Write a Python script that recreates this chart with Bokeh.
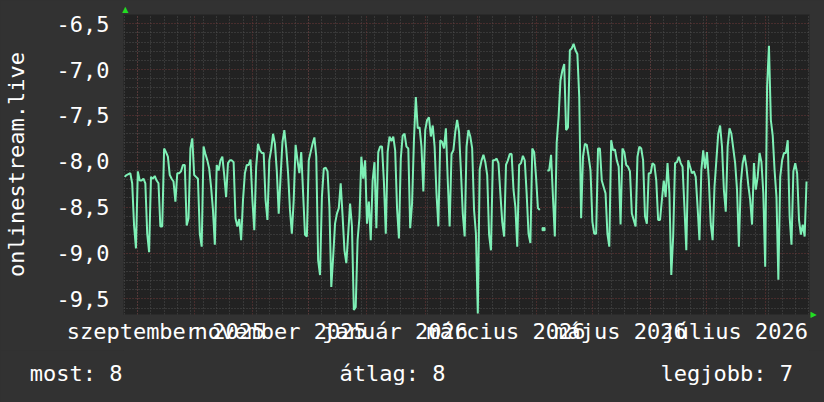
import numpy as np
import pandas as pd
from bokeh.plotting import figure
from bokeh.layouts import column
from bokeh.models import (ColumnDataSource, FixedTicker, Grid, Label, Range1d,
                          LinearAxis)
from bokeh.embed import file_html
from bokeh.resources import INLINE

nan = float("nan")

# ---- data (daily, starting 2025-08-25) ----
start_date = "2025-08-25"
values = [
    -8.17, -8.15, -8.14, -8.13, -8.24, -8.70, -8.95,
    -8.11, -8.21, -8.21, -8.19, -8.24, -8.79, -8.99,
    -8.17, -8.19, -8.16, -8.21, -8.24, -8.71, -8.71,
    -7.86, -7.90, -7.95, -8.15, -8.19, -8.22, -8.44,
    -8.13, -8.13, -8.11, -8.04, -8.04, -8.70, -8.62,
    -7.86, -7.75, -8.15, -8.17, -8.19, -8.79, -8.93,
    -7.84, -7.92, -7.99, -8.08, -8.28, -8.53, -8.91,
    -8.04, -8.10, -7.99, -7.95, -8.15, -8.39, -8.02,
    -7.99, -7.99, -8.01, -8.62, -8.71, -8.63, -8.86,
    -8.42, -8.13, -8.04, -8.04, -7.98, -8.42, -8.75,
    -8.06, -7.81, -7.88, -7.91, -7.91, -8.42, -8.64,
    -7.99, -7.87, -7.70, -7.81, -8.11, -8.57, -8.17,
    -7.79, -7.66, -7.86, -8.13, -8.53, -8.79, -8.42,
    -7.82, -7.99, -8.13, -7.90, -8.35, -8.80, -8.82,
    -7.99, -7.90, -7.81, -7.74, -7.95, -9.08, -9.24,
    -8.39, -8.08, -8.07, -8.11, -8.50, -9.37, -9.04,
    -8.68, -8.57, -8.51, -8.24, -8.59, -8.97, -9.11,
    -8.79, -8.46, -8.71, -9.62, -9.59, -8.86, -8.61,
    -7.95, -8.19, -7.99, -8.68, -8.44, -8.86, -8.21,
    -8.01, -8.73, -7.90, -7.84, -7.84, -8.22, -8.79,
    -7.90, -7.73, -7.78, -7.73, -7.88, -8.51, -8.84,
    -7.97, -7.72, -7.70, -7.84, -7.86, -8.73, -8.46,
    -7.77, -7.30, -7.64, -7.63, -7.84, -8.33, -7.66,
    -7.55, -7.52, -7.73, -7.61, -7.84, -8.35, -8.71,
    -7.77, -7.79, -7.86, -7.64, -8.21, -8.71, -7.92,
    -7.88, -7.68, -7.55, -7.68, -8.10, -8.57, -8.82,
    -7.84, -7.66, -7.73, -7.86, -8.53, -8.79, -9.66,
    -8.09, -7.99, -7.93, -8.01, -8.15, -8.80, -8.97,
    -7.99, -7.99, -7.97, -8.02, -8.35, -8.66, -8.82,
    -8.04, -7.99, -7.92, -7.92, -8.31, -8.50, -8.93,
    -8.04, -8.02, -7.94, -7.99, -8.35, -8.79, -8.89,
    -7.86, -7.90, -8.17, -8.51, -8.53, nan, -8.74,
    nan, -8.10, -8.10, -7.93, -8.39, -8.82, -7.80,
    -7.52, -7.12, -7.01, -6.94, -7.66, -7.63, -6.79,
    -6.77, -6.72, -6.79, -6.83, -7.30, -8.62, -7.95,
    -7.81, -7.82, -7.95, -8.10, -8.66, -8.79, -8.79,
    -7.86, -7.86, -8.21, -8.28, -8.35, -8.79, -8.93,
    -7.77, -7.88, -7.87, -7.99, -8.06, -8.69, -7.86,
    -7.90, -8.04, -8.06, -8.11, -8.57, -8.64, -8.71,
    -7.95, -7.84, -7.86, -7.99, -8.60, -8.68, -8.13,
    -8.13, -8.02, -8.04, -8.21, -8.64, -8.64, -8.42,
    -8.21, -8.39, -8.02, -8.35, -9.24, -8.82, -8.02,
    -8.01, -7.95, -8.02, -8.06, -8.50, -8.97, -7.99,
    -8.06, -8.13, -8.11, -8.17, -8.50, -8.86, -8.10,
    -7.88, -8.08, -7.90, -8.21, -8.68, -8.86, -8.28,
    -7.99, -7.70, -7.61, -7.84, -8.31, -8.55, -7.84,
    -7.64, -7.70, -7.86, -8.02, -8.31, -8.93, -8.24,
    -8.02, -7.93, -8.06, -8.26, -8.42, -8.69, -8.02,
    -8.31, -8.17, -7.91, -8.01, -8.35, -9.15, -7.19,
    -6.74, -7.55, -7.72, -8.10, -8.39, -9.29, -8.17,
    -7.99, -7.91, -7.91, -7.77, -8.60, -8.91, -8.11,
    -8.02, -8.13, -8.64, -8.80, -8.69, -8.82, -8.22,
]

x_start = "2025-08-24 09:00"
x_end = "2026-08-24 14:00"
y_bottom = -9.67
y_top = -6.40

y_ticks = [-9.5, -9.0, -8.5, -8.0, -7.5, -7.0, -6.5]
label_months = ["2025-09-01", "2025-11-01", "2026-01-01",
                "2026-03-01", "2026-05-01", "2026-07-01"]
x_labels = ["szeptember 2025", "november 2025", "január 2026",
            "március 2026", "május 2026", "július 2026"]

ylabel = "onlinestream.live"
legend_texts = ["most: 8", "átlag: 8", "legjobb: 7"]

# ---- styles ----
PAGE_BG = "#323232"
CANVAS_BG = "#222222"
LINE_C = "#7ef0b6"
MINOR_C = "#4e4e4e"
MAJOR_C = "#6e3838"
ARROW_C = "#22dd22"
FONT = "DejaVu Sans Mono"
FS = "22px"
W = 824
H_MAIN = 350
H_FOOT = 52
BORDER_L = 123
BORDER_R = 15


def ms(ts):
    return pd.Timestamp(ts).value / 1e6


def style_axis(ax, font=FONT, size=FS, color="white"):
    ax.axis_line_color = None
    ax.major_tick_line_color = None
    ax.minor_tick_line_color = None
    ax.major_tick_out = 0
    ax.major_tick_in = 0
    ax.minor_tick_out = 0
    ax.minor_tick_in = 0
    ax.major_label_text_font = font
    ax.major_label_text_font_size = size
    ax.major_label_text_color = color
    ax.axis_label_text_font = FONT
    ax.axis_label_text_font_size = FS
    ax.axis_label_text_font_style = "normal"
    ax.axis_label_text_color = "white"


dates = pd.date_range(start_date, periods=len(values), freq="D")
vals = np.array(values, dtype=float)
src = ColumnDataSource(dict(date=dates, value=vals))

# isolated points (no valid neighbour) drawn as small dashes
iso = []
for i in range(len(vals)):
    if np.isnan(vals[i]):
        continue
    lft = np.isnan(vals[i - 1]) if i > 0 else True
    rgt = np.isnan(vals[i + 1]) if i < len(vals) - 1 else True
    if lft and rgt:
        iso.append(i)
iso_src = ColumnDataSource(dict(date=dates[iso], value=vals[iso]))

p = figure(width=W, height=H_MAIN, x_axis_type="datetime",
           x_range=Range1d(pd.Timestamp(x_start), pd.Timestamp(x_end)),
           y_range=Range1d(y_bottom, y_top),
           output_backend="svg", toolbar_location=None,
           min_border_left=BORDER_L, min_border_right=BORDER_R,
           min_border_top=14, min_border_bottom=36)
p.border_fill_color = PAGE_BG
p.background_fill_color = CANVAS_BG
p.outline_line_color = None
p.xgrid.visible = False
p.ygrid.visible = False

xax = p.below[0]
yax = p.left[0]

# grids
week_ticks = [ms(d) for d in pd.date_range("2025-08-25", "2026-08-24", freq="7D")]
month_ticks = [ms(d) for d in pd.date_range("2025-09-01", "2026-08-01", freq="MS")]
y_minor = [round(v, 1) for v in np.arange(-9.6, -6.35, 0.1)
           if abs(round(v, 1) * 2 - round(round(v, 1) * 2)) > 1e-6]

for ticks, col, dim in [(week_ticks, MINOR_C, 0), (y_minor, MINOR_C, 1),
                        (month_ticks, MAJOR_C, 0), (y_ticks, MAJOR_C, 1)]:
    g = Grid(dimension=dim, ticker=FixedTicker(ticks=ticks),
             grid_line_color=col, grid_line_dash="1 2", grid_line_width=1)
    p.add_layout(g)

p.line("date", "value", source=src, line_color=LINE_C, line_width=2)
p.scatter("date", "value", source=iso_src, marker="square", size=3,
          fill_color=LINE_C, line_color=LINE_C)

# axes
label_ticks = [ms(pd.Timestamp(m) + pd.Timedelta(days=15)) for m in label_months]
xax.ticker = FixedTicker(ticks=label_ticks)
xax.major_label_overrides = {t: s for t, s in zip(label_ticks, x_labels)}
yax.ticker = FixedTicker(ticks=y_ticks)
yax.major_label_overrides = {t: f"{t:.1f}".replace(".", ",") for t in y_ticks}
yax.axis_label = ylabel

# arrow heads at the axis ends (single-tick axes so they are not clipped)
x_arrow = ms(pd.Timestamp(x_start) + pd.Timedelta(days=1))
y_arrow = y_bottom + 0.001
top_ax = LinearAxis(ticker=FixedTicker(ticks=[x_arrow]),
                    major_label_overrides={x_arrow: "▲"})
right_ax = LinearAxis(ticker=FixedTicker(ticks=[y_arrow]),
                      major_label_overrides={y_arrow: "▶"})
p.add_layout(top_ax, "above")
p.add_layout(right_ax, "right")

style_axis(xax)
style_axis(yax)
style_axis(top_ax, "DejaVu Sans", "8px", ARROW_C)
style_axis(right_ax, "DejaVu Sans", "8px", ARROW_C)
top_ax.major_label_standoff = 1
right_ax.major_label_standoff = 1
xax.major_label_standoff = 4
yax.major_label_standoff = 14
yax.axis_label_standoff = 25

# footer with the summary texts: first one as a left tick label, others as labels
TEXT_Y = 0.56
foot = figure(width=W, height=H_FOOT, x_range=Range1d(0, 1), y_range=Range1d(0, 1),
              output_backend="svg", toolbar_location=None,
              x_axis_location=None, y_axis_location="left",
              min_border_left=BORDER_L, min_border_right=BORDER_R,
              min_border_top=0, min_border_bottom=0)
foot.border_fill_color = PAGE_BG
foot.background_fill_color = PAGE_BG
foot.outline_line_color = None
foot.xgrid.visible = False
foot.ygrid.visible = False
fax = foot.left[0]
fax.ticker = FixedTicker(ticks=[TEXT_Y])
fax.major_label_overrides = {TEXT_Y: legend_texts[0]}
style_axis(fax)
fax.major_label_standoff = 1
for txt, xs in zip(legend_texts[1:], [216, 537]):
    foot.add_layout(Label(x=xs, y=TEXT_Y, x_units="screen", y_units="data",
                          text=txt, text_font=FONT, text_font_size=FS,
                          text_color="white", text_baseline="middle",
                          text_align="left"))

layout = column(p, foot, spacing=0)
html = file_html(layout, INLINE)
html = html.replace("<head>", "<head><style>body{background:%s;}</style>" % PAGE_BG, 1)
open("out.html", "w").write(html)
